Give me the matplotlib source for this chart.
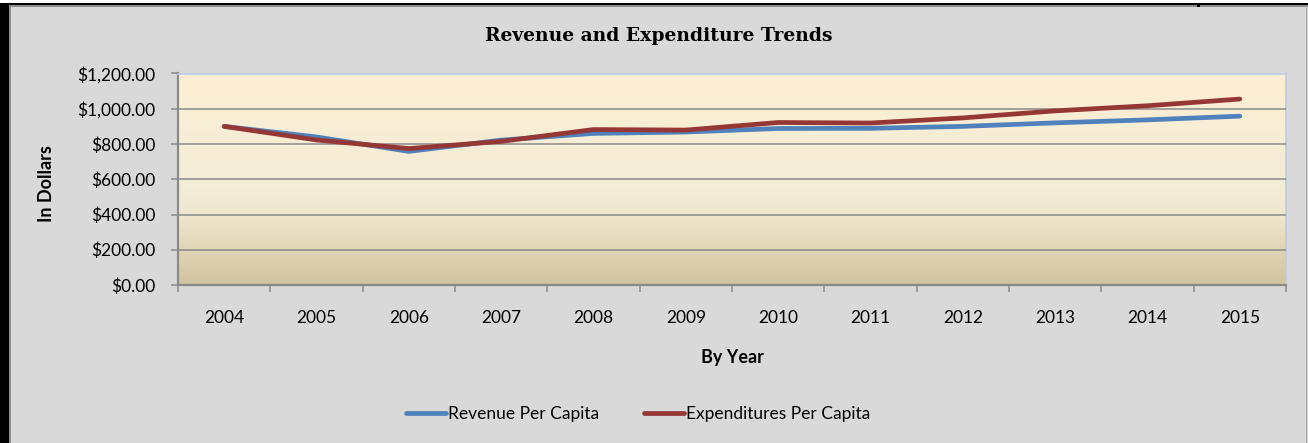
import numpy as np
import matplotlib.pyplot as plt
from matplotlib.patches import Rectangle
from matplotlib.ticker import FuncFormatter, FixedLocator

# per-capita figures by year
years = ['2004', '2005', '2006', '2007', '2008', '2009',
         '2010', '2011', '2012', '2013', '2014', '2015']
revenue = [900, 840, 758, 822, 860, 868, 888, 889, 900, 920, 937, 958]
expenditures = [900, 823, 774, 815, 882, 879, 922, 919, 948, 988, 1017, 1055]

W, H = 1308, 443
fig = plt.figure(figsize=(W / 100, H / 100), dpi=100)
fig.patch.set_facecolor('white')

# chart area (light gray panel with dark frame on left/top)
def band(x0, y0, w, h, color, z):
    fig.patches.append(Rectangle((x0 / W, 1 - (y0 + h) / H), w / W, h / H,
                                 transform=fig.transFigure, facecolor=color,
                                 edgecolor='none', zorder=z))

band(0, 3, W, H - 3, '#d9d9d9', -2)
band(0, 3, 9, H - 3, 'black', -1)
band(0, 3, W, 2, 'black', -1)
band(9, 5, 1.5, H - 5, '#8c8c8c', -1)
band(9, 5, W - 9, 2, '#8c8c8c', -1)
band(1305.5, 5, 1.5, H - 5, '#a6a6a6', -1)
band(1197, 3, 3, 4, 'black', -1)

left, right, top, bottom = 178, 1286, 73.5, 285
ax = fig.add_axes([left / W, 1 - bottom / H, (right - left) / W, (bottom - top) / H])
ax.set_zorder(2)
ax.set_facecolor('none')

# parchment style gradient for the plot area
stops = np.array([[253, 239, 211], [243, 236, 216], [239, 230, 205], [210, 195, 158]]) / 255
pos = np.array([0.0, 0.55, 0.68, 1.0])
t = np.linspace(0, 1, 256)
grad = np.stack([np.interp(t, pos, stops[:, k]) for k in range(3)], axis=-1)
ax.imshow(grad[:, None, :], extent=[0, 1, 0, 1], transform=ax.transAxes,
          aspect='auto', zorder=0, interpolation='bilinear')

x = np.arange(len(years))
ax.plot(x, revenue, color='#4f81bd', lw=3.4, solid_capstyle='round',
        solid_joinstyle='round', label='Revenue Per Capita', zorder=3)
ax.plot(x, expenditures, color='#953735', lw=3.4, solid_capstyle='round',
        solid_joinstyle='round', label='Expenditures Per Capita', zorder=4)

ax.set_xlim(-0.5, len(years) - 0.5)
ax.set_ylim(0, 1200)
ax.set_yticks(np.arange(0, 1201, 200))
ax.yaxis.set_major_formatter(FuncFormatter(lambda v, p: '${:,.2f}'.format(v)))
ax.yaxis.grid(True, color='#8a8a8a', lw=1.1, zorder=1)
ax.set_axisbelow(False)

# category labels centred, tick marks on category boundaries
ax.set_xticks(x)
ax.set_xticklabels(years)
ax.xaxis.set_minor_locator(FixedLocator(np.arange(-0.5, len(years), 1)))
ax.tick_params(axis='x', which='major', length=0, pad=18)
ax.tick_params(axis='x', which='minor', length=5, width=1.1, color='#8a8a8a')
ax.tick_params(axis='y', length=5, width=1.1, color='#8a8a8a', pad=11)

font = 'Lato'
for lab in ax.get_xticklabels() + ax.get_yticklabels():
    lab.set_fontfamily(font)
    lab.set_fontsize(12.5)
    lab.set_color('black')

for side in ['left', 'bottom']:
    ax.spines[side].set_color('#8a8a8a')
    ax.spines[side].set_linewidth(1.6)
for side in ['top', 'right']:
    ax.spines[side].set_color('#b9cde5')
    ax.spines[side].set_linewidth(1.2)

fig.text(659 / W, 1 - 36 / H, 'Revenue and Expenditure Trends', ha='center', va='center',
         fontsize=13.5, fontweight='bold', fontfamily='DejaVu Serif')
fig.text(47 / W, 1 - 184 / H, 'In Dollars', ha='center', va='center', rotation=90,
         fontsize=13, fontweight='bold', fontfamily=font)
fig.text(732 / W, 1 - 358 / H, 'By Year', ha='center', va='center',
         fontsize=13, fontweight='bold', fontfamily=font)

leg = fig.legend(loc='center', bbox_to_anchor=(638 / W, 1 - 414 / H), ncol=2,
                 frameon=False, handlelength=2.3, handletextpad=0.12, columnspacing=2.6,
                 prop={'family': font, 'size': 12.5})

fig.savefig('out.png', dpi=100)
